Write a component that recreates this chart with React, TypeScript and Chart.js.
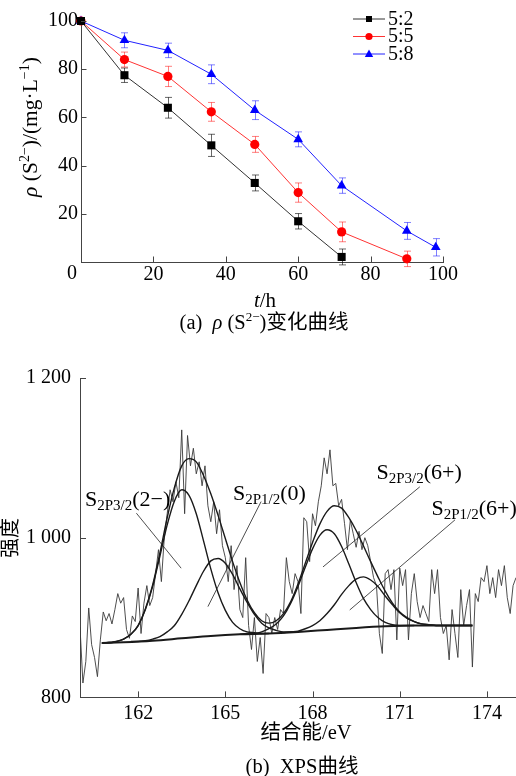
import React, { useEffect, useRef } from 'react';
import { Chart, registerables } from 'chart.js';
Chart.register(...registerables);

const SERIF = '"Liberation Serif", "Times New Roman", serif';
const MIXED = '"Liberation Serif", "Noto Sans CJK SC", serif';
const AXIS = '#444';

// ---------- Panel (a): rho(S2-) vs time ----------
const seriesNames = ['5:2', '5:5', '5:8'];
const time52 = [0, 12, 24, 36, 48, 60, 72];
const rho52 = [100, 77.5, 64, 48.4, 32.8, 16.9, 2.1];
const err52 = [0.8, 3.0, 4.3, 4.6, 3.3, 3.2, 3.3];
const time55 = [0, 12, 24, 36, 48, 60, 72, 90];
const rho55 = [100, 84, 77, 62.3, 48.8, 28.8, 12.5, 1.3];
const err55 = [0.8, 3.1, 4.2, 3.9, 3.3, 4.0, 4.1, 3.2];
const time58 = [0, 12, 24, 36, 48, 60, 72, 90, 98];
const rho58 = [100, 92, 87.8, 77.9, 63, 50.9, 31.7, 12.9, 6.1];
const err58 = [0.8, 3.1, 3.0, 3.9, 3.9, 3.1, 3.2, 3.5, 3.6];

// ---------- Panel (b): XPS spectrum ----------
const rawStart = 160.0;
const rawStep = 0.1;
const rawIntensity = [
  888, 818, 845, 912, 866, 850, 826, 872, 907, 896,
  905, 892, 910, 930, 918, 925, 885, 874, 902, 895,
  937, 880, 918, 940, 915, 925, 955, 985, 945, 1000,
  1030, 1060, 1045, 1070, 1050, 1135, 1030, 1128, 1090, 1112,
  1080, 1095, 1065, 1090, 1040, 1020, 1045, 1005, 1035, 990,
  975, 945, 990, 935, 965, 910, 900, 975, 890, 860,
  900, 845, 875, 830, 905, 900, 880, 900, 885, 910,
  905, 975, 945, 930, 955, 945, 905, 1025, 1020, 970,
  1030, 1015, 1045, 1065, 1100, 1080, 1110, 1065, 1068, 1040,
  1048, 1018, 985, 1022, 1005, 988, 1008, 985, 1000, 990,
  970, 950, 940, 880, 855, 955, 960, 935, 960, 872,
  962, 940, 960, 872, 930, 955, 920, 900, 915, 905,
  895, 960, 930, 960, 900, 880, 890, 847, 910, 880,
  850, 935, 890, 915, 935, 838, 930, 920, 950, 945,
  965, 930, 950, 925, 960, 940, 965, 925, 905, 940,
  950,
];
const fitStep = 0.25;
const bgEnergy = [160.75, 161.5, 162.5, 163.5, 164.5, 165.5, 166.5, 167.5, 168.5, 169.5, 170.5, 171.5, 172.5, 173.5];
const bgIntensity = [868, 869, 871, 874, 877, 879, 880, 882, 884.5, 887, 889, 890, 890, 890];
const p1Start = 160.75;
const p1Intensity = [868, 868, 870, 873, 879, 890, 910, 939, 977, 1016, 1046, 1060, 1053, 1030, 996, 961, 931, 909, 894, 886, 882, 881, 880, 880];
const p2Start = 161.75;
const p2Intensity = [870, 870, 871, 873, 876, 882, 890, 904, 921, 940, 958, 971, 974, 968, 954, 936, 919, 904, 893, 887, 884, 882, 882, 882];
const p3Start = 165.5;
const p3Intensity = [879, 880, 880, 882, 886, 892, 902, 918, 939, 963, 986, 1003, 1010, 1005, 989, 967, 944, 924, 910, 900, 894, 891, 890, 890, 890];
const p4Start = 167.0;
const p4Intensity = [881, 882, 883, 886, 890, 896, 905, 916, 929, 940, 948, 951, 947, 939, 927, 916, 906, 899, 895, 892, 891, 890, 890, 890, 890, 890, 890];
const envStart = 160.75;
const envIntensity = [
  868, 869, 870, 873, 879, 890, 911, 941, 981, 1025,
  1063, 1090, 1099, 1095, 1078, 1055, 1028, 999, 970, 944,
  922, 906, 896, 893, 896, 905, 920, 942, 968, 994,
  1017, 1033, 1040, 1037, 1025, 1009, 990, 970, 951, 933,
  918, 907, 900, 895, 892, 891, 890, 890, 890, 890,
  890, 890,
];
const xTicksB = [162, 165, 168, 171, 174];
const peakLabels = [
  { sub: '2P3/2', tail: '(2\u2212)', at: [160.17, 1040] },
  { sub: '2P1/2', tail: '(0)', at: [165.26, 1047] },
  { sub: '2P3/2', tail: '(6+)', at: [170.2, 1074] },
  { sub: '2P1/2', tail: '(6+)', at: [172.09, 1029] },
];
const leaders = [
  [[161.94, 1030.7], [163.48, 961.8]],
  [[166.23, 1045.2], [164.4, 913.7]],
  [[171.69, 1063.7], [168.36, 963.4]],
  [[172.9, 1022.3], [169.28, 909.5]],
];

const pts = (xs: number[], ys: number[]) => xs.map((x, i) => ({ x, y: ys[i] }));
const ptsStep = (start: number, step: number, ys: number[]) =>
  ys.map((y, i) => ({ x: +(start + i * step).toFixed(3), y }));

type Part = { t: string; size?: number; italic?: boolean; dy?: number };
function drawRich(ctx: CanvasRenderingContext2D, parts: Part[], x: number, y: number, align: 'center' | 'left', base: number) {
  const font = (p: Part) => `${p.italic ? 'italic ' : ''}${p.size ?? base}px ${MIXED}`;
  let w = 0;
  for (const p of parts) { ctx.font = font(p); w += ctx.measureText(p.t).width; }
  let cx = align === 'center' ? x - w / 2 : x;
  ctx.textAlign = 'left';
  ctx.textBaseline = 'alphabetic';
  ctx.fillStyle = '#000';
  for (const p of parts) {
    ctx.font = font(p);
    ctx.fillText(p.t, cx, y + (p.dy ?? 0));
    cx += ctx.measureText(p.t).width;
  }
}

function inwardTicks(chart: any, len: number, skipZero: boolean) {
  const { ctx, chartArea, scales } = chart;
  ctx.save();
  ctx.strokeStyle = AXIS;
  ctx.lineWidth = 1;
  ctx.beginPath();
  for (const t of scales.x.ticks) {
    if (skipZero && t.value === scales.x.min) continue;
    const px = Math.round(scales.x.getPixelForValue(t.value)) + 0.5;
    ctx.moveTo(px, chartArea.bottom);
    ctx.lineTo(px, chartArea.bottom - len);
  }
  for (const t of scales.y.ticks) {
    if (t.value === scales.y.min) continue;
    const py = Math.round(scales.y.getPixelForValue(t.value)) + 0.5;
    ctx.moveTo(chartArea.left, py);
    ctx.lineTo(chartArea.left + len, py);
  }
  ctx.stroke();
  ctx.restore();
}

function drawMarker(ctx: CanvasRenderingContext2D, style: string, x: number, y: number, r: number, color: string) {
  ctx.fillStyle = color;
  ctx.beginPath();
  if (style === 'rect') {
    ctx.rect(x - r, y - r, 2 * r, 2 * r);
  } else if (style === 'circle') {
    ctx.arc(x, y, r, 0, Math.PI * 2);
  } else {
    ctx.moveTo(x, y - r * 1.1);
    ctx.lineTo(x + r * 1.05, y + r * 0.75);
    ctx.lineTo(x - r * 1.05, y + r * 0.75);
    ctx.closePath();
  }
  ctx.fill();
}

const legendStyles = [
  { style: 'rect', line: '#333', fill: '#000', r: 3 },
  { style: 'circle', line: '#f33', fill: '#f00', r: 3.6 },
  { style: 'triangle', line: '#22f', fill: '#00f', r: 4 },
];

const plugA = {
  id: 'plugA',
  beforeDatasetsDraw(chart: any) {
    const { ctx, scales } = chart;
    ctx.save();
    ctx.lineWidth = 1;
    chart.data.datasets.forEach((ds: any) => {
      ctx.strokeStyle = ds.errColor;
      ds.data.forEach((p: any, i: number) => {
        const e = ds.errors[i];
        const x = Math.round(scales.x.getPixelForValue(p.x)) + 0.5;
        const y1 = scales.y.getPixelForValue(p.y + e);
        const y2 = scales.y.getPixelForValue(p.y - e);
        ctx.beginPath();
        ctx.moveTo(x, y1); ctx.lineTo(x, y2);
        ctx.moveTo(x - 3.5, y1); ctx.lineTo(x + 3.5, y1);
        ctx.moveTo(x - 3.5, y2); ctx.lineTo(x + 3.5, y2);
        ctx.stroke();
      });
    });
    ctx.restore();
  },
  afterDraw(chart: any) {
    const { ctx, chartArea } = chart;
    inwardTicks(chart, 5.5, true);
    ctx.save();
    // origin label of the time axis (set slightly left of the corner, as in the source)
    ctx.font = `20px ${SERIF}`;
    ctx.fillStyle = '#000';
    ctx.textAlign = 'center';
    ctx.textBaseline = 'middle';
    ctx.fillText('0', chartArea.left - 9, chartArea.bottom + 12);
    // legend
    const rows = [18.5, 36, 53.5];
    seriesNames.forEach((name, i) => {
      const y = rows[i];
      const s = legendStyles[i];
      ctx.strokeStyle = s.line;
      ctx.lineWidth = 1;
      ctx.beginPath(); ctx.moveTo(353, y + 0.5); ctx.lineTo(385, y + 0.5); ctx.stroke();
      drawMarker(ctx, s.style, 369, y + 0.5, s.r, s.fill);
      ctx.font = `20px ${SERIF}`;
      ctx.fillStyle = '#000';
      ctx.textAlign = 'left';
      ctx.textBaseline = 'middle';
      ctx.fillText(name, 388, y + 1);
    });
    // y title
    ctx.save();
    ctx.translate(30, 127);
    ctx.rotate(-Math.PI / 2);
    drawRich(ctx, [
      { t: '\u03c1', italic: true }, { t: ' (S' }, { t: '2\u2212', size: 14, dy: -8 },
      { t: ')/(mg\u00b7L' }, { t: '\u22121', size: 14, dy: -8 }, { t: ')' },
    ], 0, 7, 'center', 21.5);
    ctx.restore();
    // x title
    drawRich(ctx, [{ t: 't', italic: true }, { t: '/h' }], 265, 307, 'center', 21);
    // caption
    drawRich(ctx, [
      { t: '(a)  ' }, { t: '\u03c1', italic: true }, { t: ' (S' }, { t: '2\u2212', size: 13, dy: -8 },
      { t: ')\u53d8\u5316\u66f2\u7ebf' },
    ], 264, 329, 'center', 20.5);
    ctx.restore();
  },
};

const plugB = {
  id: 'plugB',
  afterDatasetsDraw(chart: any) {
    const { ctx, scales } = chart;
    ctx.save();
    ctx.strokeStyle = '#222';
    ctx.lineWidth = 0.8;
    ctx.beginPath();
    leaders.forEach(([a, b]) => {
      ctx.moveTo(scales.x.getPixelForValue(a[0]), scales.y.getPixelForValue(a[1]));
      ctx.lineTo(scales.x.getPixelForValue(b[0]), scales.y.getPixelForValue(b[1]));
    });
    ctx.stroke();
    peakLabels.forEach((l) => {
      const x = scales.x.getPixelForValue(l.at[0]);
      const y = scales.y.getPixelForValue(l.at[1]);
      drawRich(ctx, [{ t: 'S' }, { t: l.sub, size: 15, dy: 4 }, { t: l.tail }], x, y, 'left', 22);
    });
    ctx.restore();
  },
  afterDraw(chart: any) {
    const { ctx } = chart;
    inwardTicks(chart, 6, false);
    ctx.save();
    ctx.save();
    ctx.translate(12, 198);
    ctx.rotate(-Math.PI / 2);
    ctx.font = `20px ${MIXED}`;
    ctx.fillStyle = '#000';
    ctx.textAlign = 'center';
    ctx.textBaseline = 'middle';
    ctx.fillText('\u5f3a\u5ea6', 0, 0);
    ctx.restore();
    drawRich(ctx, [{ t: '\u7ed3\u5408\u80fd/eV' }], 306, 399, 'center', 20.5);
    drawRich(ctx, [{ t: '(b)  XPS\u66f2\u7ebf' }], 302, 433, 'center', 20.5);
    ctx.restore();
  },
};

function ChartA() {
  const ref = useRef<HTMLCanvasElement>(null);
  useEffect(() => {
    const mk = (label: string, xs: number[], ys: number[], errs: number[], line: string, fill: string, style: string, r: number, errColor: string) => ({
      label, data: pts(xs, ys), errors: errs, errColor,
      borderColor: line, borderWidth: 1, backgroundColor: fill,
      pointStyle: style, pointRadius: r, pointBackgroundColor: fill, pointBorderColor: fill, pointBorderWidth: 0,
      clip: false, tension: 0,
    });
    const chart = new Chart(ref.current!, {
      type: 'line',
      data: {
        datasets: [
          mk(seriesNames[0], time52, rho52, err52, '#333', '#000', 'rect', 5.7, 'rgba(0,0,0,0.6)'),
          mk(seriesNames[1], time55, rho55, err55, '#f33', '#f00', 'circle', 4.6, 'rgba(255,0,0,0.5)'),
          mk(seriesNames[2], time58, rho58, err58, '#22f', '#00f', 'triangle', 5.6, 'rgba(0,0,255,0.5)'),
        ] as any,
      },
      options: {
        animation: false, responsive: false, devicePixelRatio: 1,
        layout: { padding: { left: 0, right: 73, top: 21, bottom: 0 } },
        plugins: { legend: { display: false }, tooltip: { enabled: false } },
        scales: {
          x: {
            type: 'linear', min: 0, max: 100,
            grid: { display: false, drawTicks: false },
            border: { display: true, color: AXIS, width: 1 },
            ticks: { stepSize: 20, color: '#000', font: { family: SERIF, size: 20 }, padding: 1, maxRotation: 0,
              callback: (v: any) => (v === 0 ? '' : String(v)) },
            afterFit: (s: any) => { s.height = 78; },
          },
          y: {
            type: 'linear', min: 0, max: 100,
            grid: { display: false, drawTicks: false },
            border: { display: true, color: AXIS, width: 1 },
            ticks: { stepSize: 20, color: '#000', font: { family: SERIF, size: 20 }, padding: 3,
              callback: (v: any) => (v === 0 ? '' : String(v)) },
            afterFit: (s: any) => { s.width = 81; },
          },
        },
      } as any,
      plugins: [plugA],
    });
    return () => chart.destroy();
  }, []);
  return <canvas ref={ref} width={516} height={340} style={{ display: 'block', width: 516, height: 340 }} />;
}

function ChartB() {
  const ref = useRef<HTMLCanvasElement>(null);
  useEffect(() => {
    const fit = (data: any[]) => ({
      data, borderColor: '#1a1a1a', borderWidth: 1.4, pointRadius: 0,
      cubicInterpolationMode: 'monotone', fill: false,
    });
    const chart = new Chart(ref.current!, {
      type: 'line',
      data: {
        datasets: [
          fit(ptsStep(envStart, fitStep, envIntensity)),
          fit(ptsStep(p1Start, fitStep, p1Intensity)),
          fit(ptsStep(p2Start, fitStep, p2Intensity)),
          fit(ptsStep(p3Start, fitStep, p3Intensity)),
          fit(ptsStep(p4Start, fitStep, p4Intensity)),
          { ...fit(pts(bgEnergy, bgIntensity)), borderWidth: 2 },
          { data: ptsStep(rawStart, rawStep, rawIntensity), borderColor: '#3a3a3a', borderWidth: 0.9, pointRadius: 0, tension: 0 },
        ] as any,
      },
      options: {
        animation: false, responsive: false, devicePixelRatio: 1,
        layout: { padding: { left: 0, right: 0, top: 38, bottom: 0 } },
        plugins: { legend: { display: false }, tooltip: { enabled: false } },
        scales: {
          x: {
            type: 'linear', min: 160, max: 175,
            grid: { display: false, drawTicks: false },
            border: { display: true, color: AXIS, width: 1 },
            afterBuildTicks: (s: any) => { s.ticks = xTicksB.map((v) => ({ value: v })); },
            ticks: { color: '#000', font: { family: SERIF, size: 20 }, padding: 4, maxRotation: 0,
              callback: (v: any) => String(v) },
            afterFit: (s: any) => { s.height = 78.6; },
          },
          y: {
            type: 'linear', min: 800, max: 1200,
            grid: { display: false, drawTicks: false },
            border: { display: true, color: AXIS, width: 1 },
            ticks: { stepSize: 200, color: '#000', font: { family: SERIF, size: 20 }, padding: 9,
              callback: (v: any) => String(v).replace(/\B(?=(\d{3})+(?!\d))/g, ' ') },
            afterFit: (s: any) => { s.width = 80; },
          },
        },
      } as any,
      plugins: [plugB],
    });
    return () => chart.destroy();
  }, []);
  return <canvas ref={ref} width={516} height={436} style={{ display: 'block', width: 516, height: 436 }} />;
}

export default function App() {
  return (
    <div style={{ position: 'absolute', left: 0, top: 0, width: 516, height: 776, background: '#fff', overflow: 'hidden' }}>
      <ChartA />
      <ChartB />
    </div>
  );
}
